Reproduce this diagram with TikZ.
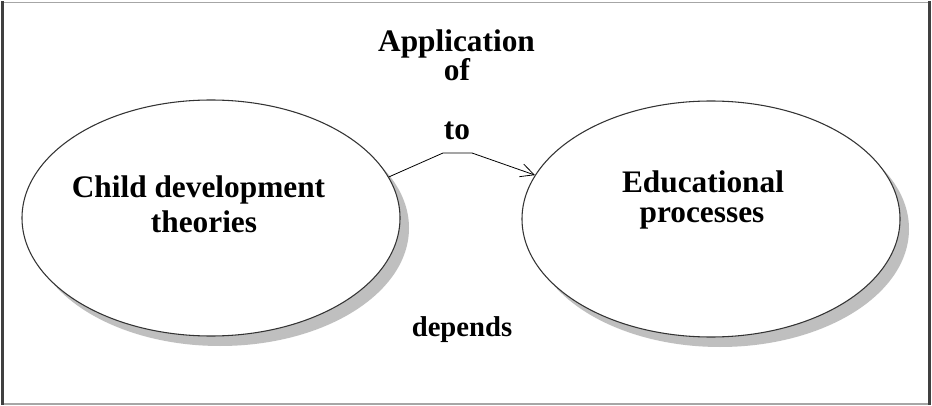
\documentclass[tikz,border=0pt]{standalone}
\usepackage{fontspec}
\setmainfont{Liberation Serif}
\usetikzlibrary{shapes.geometric,arrows.meta}
\begin{document}
\begin{tikzpicture}[x=0.75pt,y=-0.75pt,
  bubble/.style={ellipse,draw=black!80,line width=0.8pt,fill=white,minimum width=283.5pt,minimum height=177pt,inner sep=0pt},
  shade/.style={ellipse,fill=black!25,minimum width=283.5pt,minimum height=177pt,inner sep=0pt},
  big/.style={font=\bfseries\fontsize{23.5}{28}\selectfont,anchor=base,inner sep=0pt},
  small/.style={font=\bfseries\fontsize{21.5}{26}\selectfont,anchor=base,inner sep=0pt},
  link/.style={line width=0.6pt,-{Straight Barb[length=10pt,width=10pt,line width=0.6pt]}}]
\useasboundingbox (0,0) rectangle (932,406);
\fill[white] (0,0) rectangle (932,406);
\draw[black!35,line width=1pt] (2,2.5) -- (929.5,2.5);
\draw[black!35,line width=1pt] (2,404) -- (929.5,404);
\draw[black!75,line width=2pt] (2.5,1.5) -- (2.5,405);
\draw[black!75,line width=2pt] (929.5,1.5) -- (929.5,405);
% shadows
\node[shade] (Ls) at (220,228) {};
\node[shade] (Rs) at (720,229) {};
% ellipses
\node[bubble] (L) at (211,218) {};
\node[bubble] (R) at (711,219) {};
% texts
\node[big] (t1) at (198.5,198) {Child development};
\node[big] (t2) at (204,233) {theories};
\node[big] (t3) at (703,193) {Educational};
\node[big] (t4) at (702,223) {processes};
\node[big] (t5) at (456.5,52) {Application};
\node[big] (t6) at (457,81) {of};
\node[big] (t7) at (457,140) {to};
\node[small] (t8) at (462,336) {depends};
% connector
\coordinate (a1) at (443,153);
\coordinate (a2) at (472,153);
\draw[link] (L.13.5) -- (a1) -- (a2) -- (R.166);
\end{tikzpicture}
\end{document}
